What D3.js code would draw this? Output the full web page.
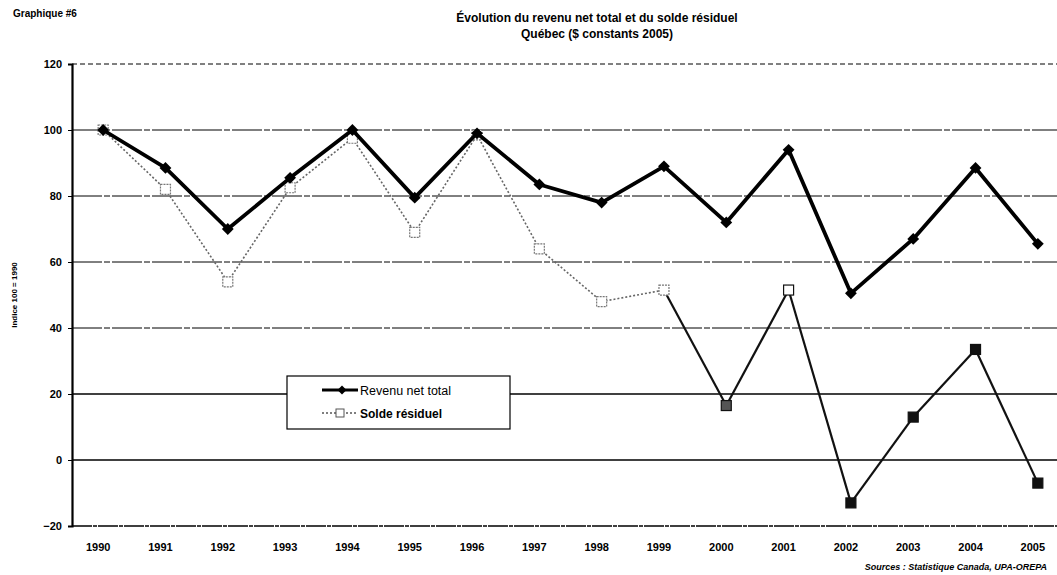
<!DOCTYPE html>
<html>
<head>
<meta charset="utf-8">
<script src="https://cdn.jsdelivr.net/npm/d3@7"></script>
<style>
  body { margin: 0; background: #fff; }
  svg { font-family: "Liberation Sans", Arial, sans-serif; }
</style>
</head>
<body>
<div id="chart"></div>
<script>
// data
var years = ["1990","1991","1992","1993","1994","1995","1996","1997","1998","1999","2000","2001","2002","2003","2004","2005"];
var revenu = [100, 88.5, 70, 85.5, 100, 79.5, 99, 83.5, 78, 89, 72, 94, 50.5, 67, 88.5, 65.5];
var solde  = [100, 82, 54, 82.5, 97.5, 69, 98.5, 64, 48, 51.5, 16.5, 51.5, -13, 13, 33.5, -7];
var yTicks = [-20, 0, 20, 40, 60, 80, 100, 120];

var W = 1057, H = 575;
var m = {l: 72, t: 64, b: 49};

var svg = d3.select("#chart").append("svg")
    .attr("width", W).attr("height", H);

// x: one band per year, chart runs a bit past the right edge
var x = d3.scalePoint().domain(years).range([72, 1069]).padding(0.5);
var y = d3.scaleLinear().domain([-20, 120]).range([526, 64]);

// gridlines
svg.append("g").selectAll("line").data(yTicks.filter(function(d){ return d > -20; })).enter()
    .append("line")
    .attr("x1", m.l).attr("x2", W)
    .attr("y1", function(d){ return y(d); }).attr("y2", function(d){ return y(d); })
    .attr("stroke", "#000")
    .attr("stroke-width", function(d){ return d <= 20 ? 1.3 : 1; })
    .attr("stroke-dasharray", function(d){ return d == 120 ? "5,3" : (d >= 40 ? "30,2,6,2" : null); });

// bottom axis line
svg.append("line").attr("x1", m.l).attr("x2", W)
    .attr("y1", y(-20)).attr("y2", y(-20))
    .attr("stroke", "#000").attr("stroke-width", 1.3).attr("stroke-dasharray", "20,1,4,1");

// y axis
var yAxis = svg.append("g").attr("transform", "translate(" + m.l + ",0)")
    .call(d3.axisLeft(y).tickValues(yTicks).tickSize(4).tickPadding(6));
yAxis.select(".domain").attr("stroke-width", 2.2);
yAxis.selectAll("text").style("font-size", "11px").style("font-weight", "bold");

// x labels
svg.append("g").selectAll("text").data(years).enter().append("text")
    .attr("x", function(d){ return x(d) - 5; })
    .attr("y", 551)
    .attr("text-anchor", "middle")
    .style("font-size", "11px").style("font-weight", "bold")
    .text(function(d){ return d; });

// solde residuel: faint dotted at first, dark from 1999 on (as in the scan)
var pts = years.map(function(d, i){ return [x(d), y(solde[i]), i]; });
for (var i = 0; i < pts.length - 1; i++) {
    var dark = i >= 9;
    svg.append("line")
        .attr("x1", pts[i][0]).attr("y1", pts[i][1])
        .attr("x2", pts[i+1][0]).attr("y2", pts[i+1][1])
        .attr("stroke", dark ? "#111" : "#666")
        .attr("stroke-width", dark ? 2.2 : 1.6)
        .attr("stroke-dasharray", dark ? null : "2,2");
}
svg.append("g").selectAll("rect").data(pts).enter().append("rect")
    .attr("x", function(d){ return d[0] - 5; })
    .attr("y", function(d){ return d[1] - 5; })
    .attr("width", 10).attr("height", 10)
    .attr("fill", function(d){ return d[2] >= 12 ? "#111" : (d[2] == 10 ? "#555" : "#fff"); })
    .attr("stroke", function(d){ return d[2] >= 10 ? "#111" : "#777"; })
    .attr("stroke-width", 1.2)
    .attr("stroke-dasharray", function(d){ return d[2] >= 10 ? null : "2,1"; });

// revenu net total
var line = d3.line()
    .x(function(d, i){ return x(years[i]); })
    .y(function(d){ return y(d); });
svg.append("path").datum(revenu)
    .attr("d", line)
    .attr("fill", "none").attr("stroke", "#000").attr("stroke-width", 3.8)
    .attr("stroke-linejoin", "round");
svg.append("g").selectAll("path").data(revenu).enter().append("path")
    .attr("d", d3.symbol().type(d3.symbolSquare).size(70))
    .attr("transform", function(d, i){ return "translate(" + x(years[i]) + "," + y(d) + ") rotate(45)"; })
    .attr("fill", "#000");

// legend
var lg = svg.append("g");
lg.append("rect").attr("x", 287).attr("y", 376).attr("width", 223).attr("height", 53)
    .attr("fill", "#fff").attr("stroke", "#000").attr("stroke-width", 1.2);
lg.append("line").attr("x1", 322).attr("x2", 358).attr("y1", 390).attr("y2", 390)
    .attr("stroke", "#000").attr("stroke-width", 3);
lg.append("path").attr("d", d3.symbol().type(d3.symbolSquare).size(40))
    .attr("transform", "translate(342,390) rotate(45)").attr("fill", "#000");
lg.append("text").attr("x", 360).attr("y", 395).style("font-size", "12.5px").text("Revenu net total");
lg.append("line").attr("x1", 322).attr("x2", 358).attr("y1", 413).attr("y2", 413)
    .attr("stroke", "#555").attr("stroke-width", 1.6).attr("stroke-dasharray", "2,2");
lg.append("rect").attr("x", 336).attr("y", 409).attr("width", 8).attr("height", 8)
    .attr("fill", "#fff").attr("stroke", "#555");
lg.append("text").attr("x", 360).attr("y", 418).style("font-size", "12px").style("font-weight", "bold").text("Solde résiduel");

// titles and notes
svg.append("text").attr("x", 13).attr("y", 17).style("font-size", "10px").style("font-weight", "bold").text("Graphique #6");
svg.append("text").attr("x", 597).attr("y", 22).attr("text-anchor", "middle")
    .style("font-size", "12px").style("font-weight", "bold")
    .text("Évolution du revenu net total et du solde résiduel");
svg.append("text").attr("x", 597).attr("y", 38).attr("text-anchor", "middle")
    .style("font-size", "12px").style("font-weight", "bold")
    .text("Québec ($ constants 2005)");
svg.append("text")
    .attr("transform", "translate(17,295) rotate(-90)")
    .attr("text-anchor", "middle")
    .style("font-size", "8px").style("font-weight", "bold")
    .text("Indice 100 = 1990");
svg.append("text").attr("x", 1047).attr("y", 570).attr("text-anchor", "end")
    .style("font-size", "9px").style("font-weight", "bold").style("font-style", "italic")
    .text("Sources : Statistique Canada, UPA-OREPA");
</script>
</body>
</html>
